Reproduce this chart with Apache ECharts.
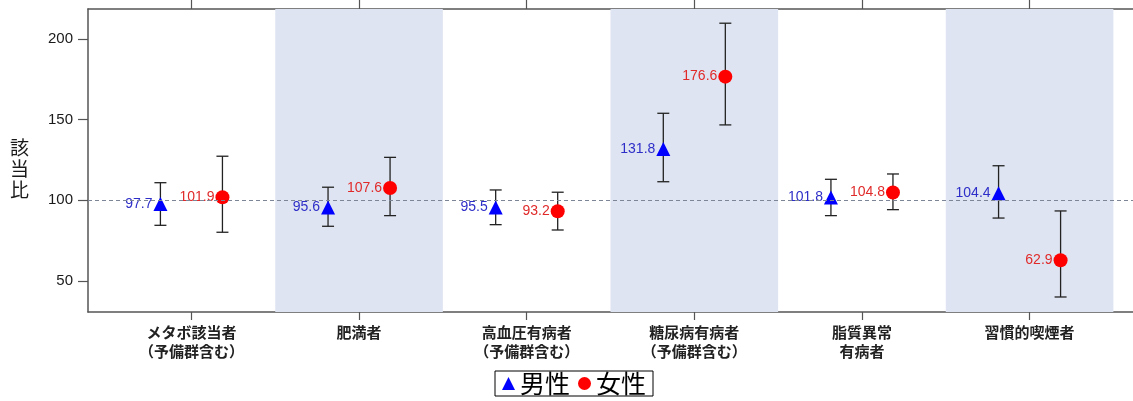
<!DOCTYPE html>
<html>
<head>
<meta charset="utf-8">
<script src="https://cdn.jsdelivr.net/npm/echarts@6/dist/echarts.min.js"></script>
<style>
html,body{margin:0;padding:0;background:#fff;}
#chart{width:1133px;height:401px;}
</style>
</head>
<body>
<div id="chart"></div>
<script>
// ---- data ----
const categories = ['メタボ該当者\n（予備群含む）', '肥満者', '高血圧有病者\n（予備群含む）', '糖尿病有病者\n（予備群含む）', '脂質異常\n有病者', '習慣的喫煙者'];
const maleValues = [97.7, 95.6, 95.5, 131.8, 101.8, 104.4];
const maleLow = [84.5, 83.9, 84.9, 111.5, 90.5, 89.0];
const maleHigh = [110.9, 108.1, 106.4, 153.9, 113.0, 121.4];
const femaleValues = [101.9, 107.6, 93.2, 176.6, 104.8, 62.9];
const femaleLow = [80.2, 90.5, 81.6, 146.7, 94.2, 40.1];
const femaleHigh = [127.3, 126.6, 105.0, 209.7, 116.3, 93.4];
const yTicks = [50, 100, 150, 200];
const referenceValue = 100;
const seriesNames = ['男性', '女性'];

// ---- layout/style ----
const OFFSET = 0.185;
const catIdx = categories.map((c, i) => i);
const bands = catIdx.filter(i => i % 2 === 1).map(i => [{ xAxis: i - 0.5 }, { xAxis: i + 0.5 }]);
const axisColor = '#555';

function errData(vals, lo, hi, off) {
  return vals.map((v, i) => [i + off, lo[i], hi[i]]);
}
function ptData(vals, off) {
  return vals.map((v, i) => [i + off, v]);
}
function renderErr(params, api) {
  const x = api.value(0), lo = api.value(1), hi = api.value(2);
  const a = api.coord([x, lo]), b = api.coord([x, hi]);
  const w = 6;
  const st = { stroke: '#222', lineWidth: 1.3 };
  return {
    type: 'group', children: [
      { type: 'line', shape: { x1: a[0], y1: a[1], x2: b[0], y2: b[1] }, style: st },
      { type: 'line', shape: { x1: a[0] - w, y1: a[1], x2: a[0] + w, y2: a[1] }, style: st },
      { type: 'line', shape: { x1: b[0] - w, y1: b[1], x2: b[0] + w, y2: b[1] }, style: st }
    ]
  };
}

const chart = echarts.init(document.getElementById('chart'));
chart.setOption({
  animation: false,
  backgroundColor: '#fff',
  grid: { left: 88, right: 0, top: 9, bottom: 89 },
  xAxis: [{
    type: 'value', position: 'bottom', min: -0.617, max: 5.617,
    splitLine: { show: false },
    axisLine: { show: true, onZero: false, lineStyle: { color: axisColor, width: 1.5 } },
    axisTick: { show: true, customValues: catIdx, length: 8, lineStyle: { color: axisColor, width: 1.2 } },
    axisLabel: {
      customValues: catIdx, margin: 11,
      formatter: v => categories[Math.round(v)] || '',
      fontFamily: 'Noto Sans CJK JP', fontSize: 15, fontWeight: 'bold', lineHeight: 19, color: '#222'
    }
  }, {
    type: 'value', position: 'top', min: -0.617, max: 5.617,
    splitLine: { show: false },
    axisLine: { show: true, onZero: false, lineStyle: { color: axisColor, width: 1.5 } },
    axisTick: { show: true, customValues: catIdx, length: 10, lineStyle: { color: axisColor, width: 1.2 } },
    axisLabel: { show: false }
  }],
  yAxis: {
    type: 'value', min: 30.8, max: 218.5, position: 'left',
    splitLine: { show: false },
    axisLine: { show: true, onZero: false, lineStyle: { color: axisColor, width: 1.5 } },
    axisTick: { show: true, customValues: yTicks, length: 10, lineStyle: { color: axisColor, width: 1.2 } },
    axisLabel: { customValues: yTicks, margin: 15, fontFamily: 'Liberation Sans', fontSize: 15, color: '#1a1a1a' }
  },
  graphic: [{
    type: 'text', left: 10, top: 137,
    style: { text: '該\n当\n比', font: '19px "Noto Sans CJK JP"', lineHeight: 21, fill: '#1a1a1a', align: 'center' }
  }],
  legend: {
    data: seriesNames,
    left: 495, top: 371,
    orient: 'horizontal',
    borderColor: '#000', borderWidth: 1,
    padding: [0, 7, 0, 7],
    itemWidth: 13, itemHeight: 13, itemGap: 8,
    textStyle: { fontFamily: 'Noto Sans CJK JP', fontSize: 25, lineHeight: 23, color: '#000' }
  },
  series: [
    {
      type: 'scatter', data: [], silent: true, z: 0,
      markArea: { silent: true, itemStyle: { color: '#dee4f1' }, data: bands },
      markLine: {
        silent: true, symbol: 'none', label: { show: false },
        lineStyle: { color: '#7d8696', type: [4, 3], width: 1 },
        data: [{ yAxis: referenceValue }]
      }
    },
    {
      type: 'custom', renderItem: renderErr, z: 2,
      data: errData(maleValues, maleLow, maleHigh, -OFFSET), encode: { x: 0, y: [1, 2] }
    },
    {
      type: 'custom', renderItem: renderErr, z: 2,
      data: errData(femaleValues, femaleLow, femaleHigh, OFFSET), encode: { x: 0, y: [1, 2] }
    },
    {
      name: seriesNames[0], type: 'scatter', symbol: 'triangle', symbolSize: 14, z: 3,
      itemStyle: { color: '#0000ff', opacity: 1 },
      data: ptData(maleValues, -OFFSET),
      label: { show: true, position: 'left', distance: 1, formatter: p => p.value[1].toFixed(1),
        fontFamily: 'Liberation Sans', fontSize: 14, color: '#2e2ec8' }
    },
    {
      name: seriesNames[1], type: 'scatter', symbol: 'circle', symbolSize: 14, z: 3,
      itemStyle: { color: '#ff0000', opacity: 1 },
      data: ptData(femaleValues, OFFSET),
      label: { show: true, position: 'left', distance: 1, formatter: p => p.value[1].toFixed(1),
        fontFamily: 'Liberation Sans', fontSize: 14, color: '#e02a2a' }
    }
  ]
});
</script>
</body>
</html>
